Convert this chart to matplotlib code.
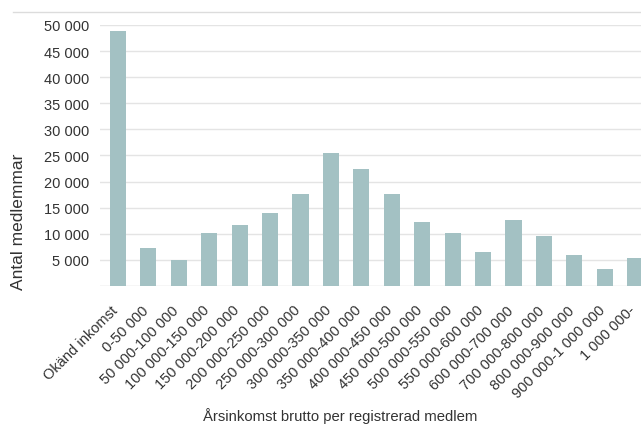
import matplotlib.pyplot as plt
from matplotlib.lines import Line2D
from matplotlib.transforms import ScaledTranslation

# Data
categories = ["Okänd inkomst", "0-50 000", "50 000-100 000", "100 000-150 000",
              "150 000-200 000", "200 000-250 000", "250 000-300 000",
              "300 000-350 000", "350 000-400 000", "400 000-450 000",
              "450 000-500 000", "500 000-550 000", "550 000-600 000",
              "600 000-700 000", "700 000-800 000", "800 000-900 000",
              "900 000-1 000 000", "1 000 000-"]
members = [48800, 7200, 5000, 10200, 11650, 14050, 17700, 25500, 22500, 17700,
           12300, 10100, 6600, 12600, 9650, 5950, 3300, 5300]
y_ticks = list(range(5000, 50001, 5000))

plt.rcParams['font.family'] = ['Liberation Sans', 'DejaVu Sans']

fig = plt.figure(figsize=(6.41, 4.27), dpi=100)
ax = fig.add_axes([100 / 641, 140 / 427, 1 - 100 / 641, 261 / 427])

x = list(range(len(categories)))
ax.bar(x, members, width=0.53, color='#a3c1c3', zorder=3)

ax.set_ylim(0, 50000)
ax.set_xlim(-0.59, 17.19)
ax.set_yticks(y_ticks)
ax.set_yticklabels([f"{v:,}".replace(",", " ") for v in y_ticks])
ax.set_xticks(x)
ax.set_xticklabels(categories, rotation=45, ha='right', rotation_mode='anchor')
ax.tick_params(axis='both', length=0, labelsize=10.5, colors='#333333')
ax.tick_params(axis='y', pad=8)
ax.tick_params(axis='x', pad=12)

# nudge the slanted labels a little to the left, as in the original
shift = ScaledTranslation(-5 / 72, 0, fig.dpi_scale_trans)
for lbl in ax.get_xticklabels():
    lbl.set_transform(lbl.get_transform() + shift)

ax.grid(axis='y', color='#e4e4e4', linewidth=1, zorder=0)
ax.axhline(0, color='#d6d6d6', linewidth=1, zorder=2)
for s in ax.spines.values():
    s.set_visible(False)

fig.text(340 / 641, 11 / 427, "Årsinkomst brutto per registrerad medlem",
         ha='center', va='center', fontsize=10.7, color='#333333')
fig.text(19 / 641, (427 - 222) / 427, "Antal medlemmar", rotation=90,
         ha='center', va='center', fontsize=12.5, color='#333333')

# thin frame line at the top of the picture
fig.add_artist(Line2D([13 / 641, 1], [(427 - 13) / 427] * 2,
                      transform=fig.transFigure, color='#dcdcdc', linewidth=1))

fig.savefig("out.png", dpi=100)
